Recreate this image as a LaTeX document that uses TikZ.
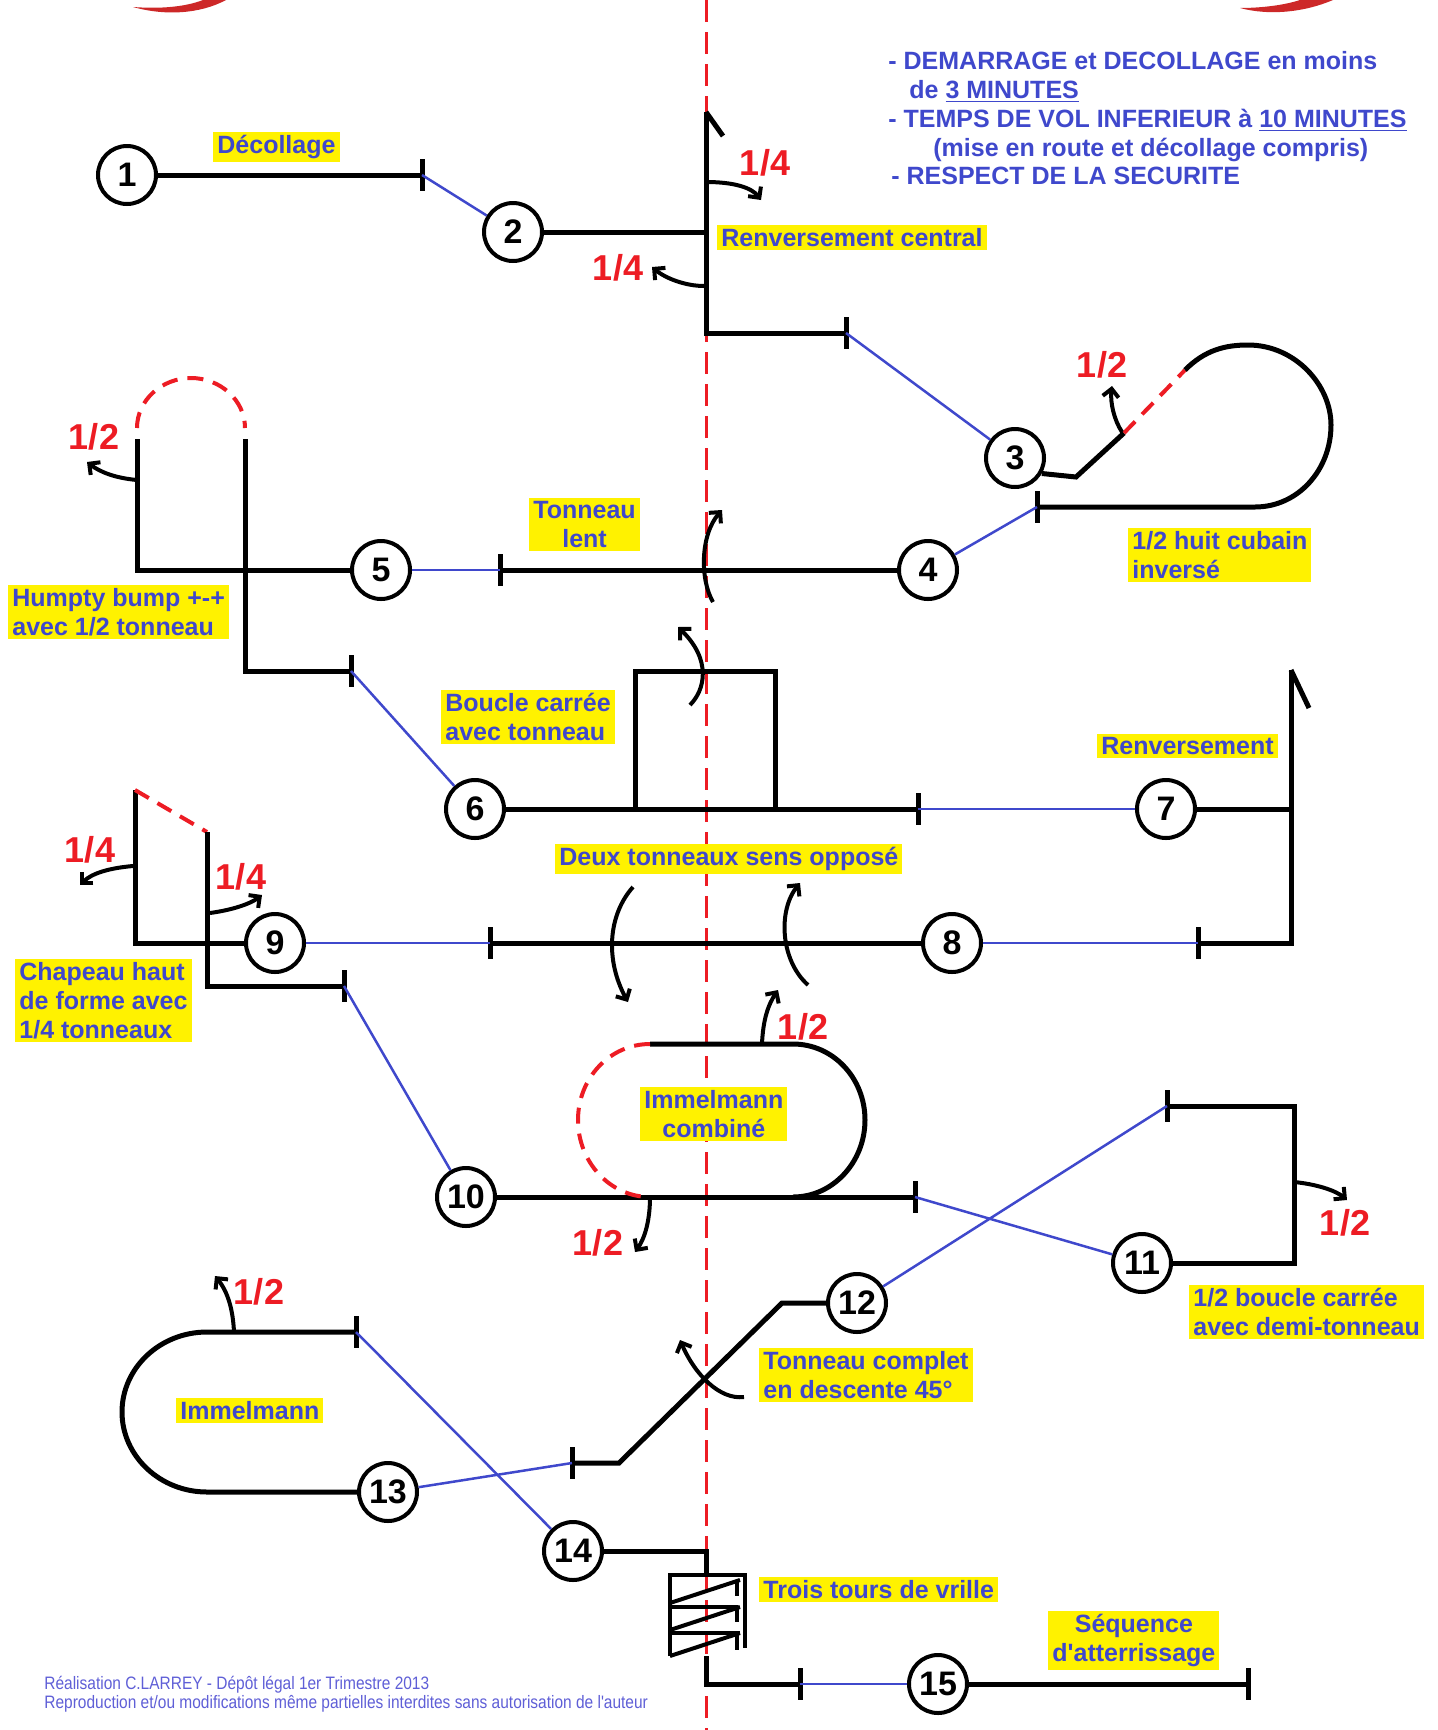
\documentclass[tikz,border=0pt]{standalone}
\usepackage{fontspec}
\setmainfont{Liberation Sans}[Ligatures=TeXOff]
\newfontfamily\footfont[FakeStretch=0.86,Ligatures=TeXOff]{Liberation Sans}
\usetikzlibrary{arrows.meta}
\definecolor{pblue}{RGB}{63,72,204}
\definecolor{pred}{RGB}{237,28,36}
\definecolor{pyel}{RGB}{255,242,0}
\definecolor{logored}{RGB}{205,40,40}
\definecolor{fblue}{RGB}{95,95,215}
\begin{document}
\begin{tikzpicture}[x=0.5pt,y=-0.5pt,
  blk/.style={line width=2.5pt},
  tickline/.style={line width=2.5pt},
  bl/.style={draw=pblue,line width=1.25pt},
  rdash/.style={draw=pred,line width=2pt,dash pattern=on 8pt off 5pt},
  cline/.style={draw=pred,line width=1.5pt,dash pattern=on 11pt off 5pt},
  num/.style={circle,draw,line width=2pt,minimum size=29pt,inner sep=0pt,fill=white,font=\fontsize{17}{17}\selectfont\bfseries},
  lab/.style={fill=pyel,text=pblue,font=\fontsize{12.5}{14.5}\selectfont\bfseries,inner xsep=2pt,inner ysep=1.5pt,anchor=north west},
  rlab/.style={text=pred,font=\fontsize{18}{18}\selectfont\bfseries,inner sep=0pt},
  rot/.style={line width=2pt,-{Straight Barb[length=4pt,width=8pt]}},
  hdr/.style={text=pblue,font=\fontsize{12.5}{14.5}\selectfont\bfseries,anchor=base west,inner sep=0pt},
  ftr/.style={text=fblue,font=\footfont\fontsize{9}{9.5}\selectfont,anchor=base west,inner sep=0pt},
  spin/.style={line width=2pt}
]
\fill[white] (0,0) rectangle (1438,1730);
\useasboundingbox (0,0) rectangle (1438,1730);

% logo fragments at the top edge
\fill[logored] (133,7) .. controls (165,16) and (200,14) .. (226,0) -- (203,0) .. controls (185,7) and (160,9) .. (133,7) -- cycle;
\fill[logored] (1240,8) .. controls (1270,16) and (1305,12) .. (1333,0) -- (1300,0) .. controls (1285,5) and (1262,8) .. (1240,8) -- cycle;

% axis
\draw[cline] (706,0) -- (706,1730);

% numbered circles
\node[num] (c1) at (127,175) {1};
\node[num] (c2) at (513,232) {2};
\node[num] (c3) at (1015,458) {3};
\node[num] (c4) at (928,570) {4};
\node[num] (c5) at (381,570) {5};
\node[num] (c6) at (475,809) {6};
\node[num] (c7) at (1166,809) {7};
\node[num] (c8) at (952,943) {8};
\node[num] (c9) at (275,943) {9};
\node[num] (c10) at (466,1197) {10};
\node[num] (c11) at (1142,1263) {11};
\node[num] (c12) at (857,1303) {12};
\node[num] (c13) at (388,1492) {13};
\node[num] (c14) at (573,1551) {14};
\node[num] (c15) at (938,1684) {15};

% tick coordinates
\coordinate (t1) at (422,175);
\coordinate (t2) at (846,333);
\coordinate (t3) at (1037,507);
\coordinate (t4) at (500,570);
\coordinate (t5) at (351,671);
\coordinate (t6) at (918,809);
\coordinate (t7) at (1198,943);
\coordinate (t8) at (490,943);
\coordinate (t9) at (344,986);
\coordinate (t10) at (915,1197);
\coordinate (t11) at (1167,1106);
\coordinate (t12) at (572,1463);
\coordinate (t13) at (356,1332);
\coordinate (t14) at (800,1684);
\coordinate (t15) at (1248,1684);
\foreach \t in {t1,t2,t3,t4,t5,t6,t7,t8,t9,t10,t11,t12,t13,t14,t15}
  \draw[tickline] ([yshift=8pt]\t) -- ([yshift=-8pt]\t);

% figure 1
\draw[blk] (c1.east) -- (t1);
% figure 2 : renversement central
\draw[blk] (c2.east) -- (706,232);
\draw[blk] (706,112) -- (706,333) -- (t2);
\draw[blk] (706,112) -- (723,136);
% figure 3 : 1/2 huit cubain inverse
\draw[blk] (c3.-30) -- (1076,477) -- (1124,433);
\draw[rdash] (1124,433) -- (1185,370);
\draw[blk] (1185,370) .. controls (1205,350) and (1225,345) .. (1248,345)
   .. controls (1295,345) and (1331,385) .. (1331,425)
   .. controls (1331,470) and (1298,507) .. (1255,507) -- (t3);
% figure 4
\draw[blk] (c4.west) -- (t4);
% figure 5 : humpty bump
\draw[blk] (c5.west) -- (137,570) -- (137,439);
\draw[blk] (245,439) -- (245,671) -- (t5);
\draw[rdash] (137,428) .. controls (137,400) and (162,378) .. (191,378)
   .. controls (220,378) and (245,400) .. (245,428);
% figure 6 : boucle carree
\draw[blk] (c6.east) -- (t6);
\draw[blk] (635,809) -- (635,671) -- (775,671) -- (775,809);
% figure 7 : renversement
\draw[blk] (c7.east) -- (1291,809);
\draw[blk] (1291,670) -- (1291,943) -- (t7);
\draw[blk] (1291,670) -- (1309,708);
% figure 8
\draw[blk] (c8.west) -- (t8);
% figure 9 : chapeau haut de forme
\draw[blk] (c9.west) -- (135,943) -- (135,790);
\draw[rdash] (135,790) -- (207,832);
\draw[blk] (207,832) -- (207,986) -- (t9);
% figure 10 : immelmann combine
\draw[blk] (c10.east) -- (t10);
\draw[blk] (650,1044) -- (793,1044) .. controls (833,1044) and (865,1078) .. (865,1120)
   .. controls (865,1162) and (833,1197) .. (793,1197);
\draw[rdash] (650,1044) .. controls (610,1044) and (578,1078) .. (578,1120)
   .. controls (578,1162) and (610,1197) .. (650,1197);
% figure 11 : 1/2 boucle carree
\draw[blk] (c11.east) -- (1294,1263) -- (1294,1106) -- (t11);
% figure 12 : tonneau complet 45
\draw[blk] (c12.west) -- (782,1303) -- (619,1463) -- (t12);
% figure 13 : immelmann
\draw[blk] (c13.west) -- (207,1492) .. controls (160,1492) and (122,1456) .. (122,1412)
   .. controls (122,1368) and (160,1332) .. (207,1332) -- (t13);
% figure 14 : vrille
\draw[blk] (c14.east) -- (706,1551) -- (706,1575);
\draw[spin] (670,1656) -- (670,1575) -- (745,1575) -- (745,1648);
\draw[spin] (670,1607) -- (738,1607);
\draw[spin] (670,1633) -- (740,1633);
\draw[spin] (670,1603) -- (740,1580);
\draw[spin] (670,1630) -- (740,1607);
\draw[spin] (670,1656) -- (740,1633);
\draw[spin] (737,1582) -- (737,1596);
\draw[spin] (737,1608) -- (737,1622);
\draw[spin] (737,1634) -- (737,1650);
\draw[blk] (706,1656) -- (706,1684) -- (t14);
% figure 15
\draw[blk] (c15.east) -- (t15);

% blue connectors
\draw[bl] (t1) -- (c2);
\draw[bl] (t2) -- (c3);
\draw[bl] (t3) -- (c4);
\draw[bl] (t4) -- (c5);
\draw[bl] (t5) -- (c6);
\draw[bl] (t6) -- (c7);
\draw[bl] (t7) -- (c8);
\draw[bl] (t8) -- (c9);
\draw[bl] (t9) -- (c10);
\draw[bl] (t10) -- (c11);
\draw[bl] (t11) -- (c12);
\draw[bl] (t12) -- (c13);
\draw[bl] (t13) -- (c14);
\draw[bl] (t14) -- (c15);

% rotation arrows
\draw[rot] (706,182) .. controls (735,182) and (752,188) .. (761,200);
\draw[rot] (704,286) .. controls (685,286) and (665,278) .. (652,267);
\draw[rot] (1122,432) .. controls (1114,420) and (1110,402) .. (1112,386);
\draw[rot] (713,602) .. controls (700,580) and (700,535) .. (722,510);
\draw[rot] (690,705) .. controls (705,690) and (712,660) .. (678,627);
\draw[rot] (137,480) .. controls (115,478) and (100,472) .. (87,462);
\draw[rot] (133,866) .. controls (110,868) and (92,873) .. (80,885);
\draw[rot] (210,913) .. controls (232,910) and (250,904) .. (262,895);
\draw[rot] (633,887) .. controls (608,915) and (605,960) .. (628,1002);
\draw[rot] (808,985) .. controls (780,960) and (778,910) .. (800,883);
\draw[rot] (762,1044) .. controls (763,1020) and (768,1005) .. (778,990);
\draw[rot] (650,1197) .. controls (650,1220) and (645,1238) .. (635,1252);
\draw[rot] (1294,1182) .. controls (1315,1184) and (1335,1190) .. (1347,1200);
\draw[rot] (744,1397) .. controls (720,1400) and (695,1375) .. (680,1340);
\draw[rot] (234,1332) .. controls (233,1310) and (228,1292) .. (215,1276);

% red fractions
\node[rlab] (r1) at (765,163) {1/4};
\node[rlab] (r2) at (618,268) {1/4};
\node[rlab] (r3) at (1102,365) {1/2};
\node[rlab] (r4) at (94,437) {1/2};
\node[rlab] (r5) at (90,850) {1/4};
\node[rlab] (r6) at (241,877) {1/4};
\node[rlab] (r7) at (803,1027) {1/2};
\node[rlab] (r8) at (598,1243) {1/2};
\node[rlab] (r9) at (1345,1223) {1/2};
\node[rlab] (r10) at (259,1292) {1/2};

% yellow labels
\node[lab] (l1) at (213,132) {Décollage};
\node[lab] (l2) at (717,225) {Renversement central};
\node[lab,align=left] (l3) at (1128,528) {1/2 huit cubain\\inversé};
\node[lab] (l4) at (1097,734) {Renversement};
\node[lab,align=left] (l5) at (8,585) {Humpty bump +-+\\avec 1/2 tonneau};
\node[lab,align=center] (l6) at (529,498) {Tonneau\\lent};
\node[lab,align=left] (l7) at (441,690) {Boucle carrée\\avec tonneau};
\node[lab] (l8) at (555,844) {Deux tonneaux sens opposé};
\node[lab,align=left] (l9) at (15,959) {Chapeau haut\\de forme avec\\1/4 tonneaux};
\node[lab,align=center] (l10) at (640,1087) {Immelmann\\combiné};
\node[lab,align=left] (l11) at (1189,1285) {1/2 boucle carrée\\avec demi-tonneau};
\node[lab,align=left] (l12) at (759,1348) {Tonneau complet\\en descente 45°};
\node[lab] (l13) at (176,1398) {Immelmann};
\node[lab] (l14) at (759,1577) {Trois tours de vrille};
\node[lab,align=center] (l15) at (1048,1611) {Séquence\\d'atterrissage};

% header
\node[hdr] (h1) at (888,69) {- DEMARRAGE et DECOLLAGE en moins};
\node[hdr] (h2) at (909,98) {de \underline{3 MINUTES}};
\node[hdr] (h3) at (888,127) {- TEMPS DE VOL INFERIEUR à \underline{10 MINUTES}};
\node[hdr] (h4) at (933,156) {(mise en route et décollage compris)};
\node[hdr] (h5) at (891,184) {- RESPECT DE LA SECURITE};

% footer
\node[ftr] (f1) at (44,1689) {Réalisation C.LARREY - Dépôt légal 1er Trimestre 2013};
\node[ftr] (f2) at (44,1708) {Reproduction et/ou modifications même partielles interdites sans autorisation de l'auteur};
\end{tikzpicture}
\end{document}
